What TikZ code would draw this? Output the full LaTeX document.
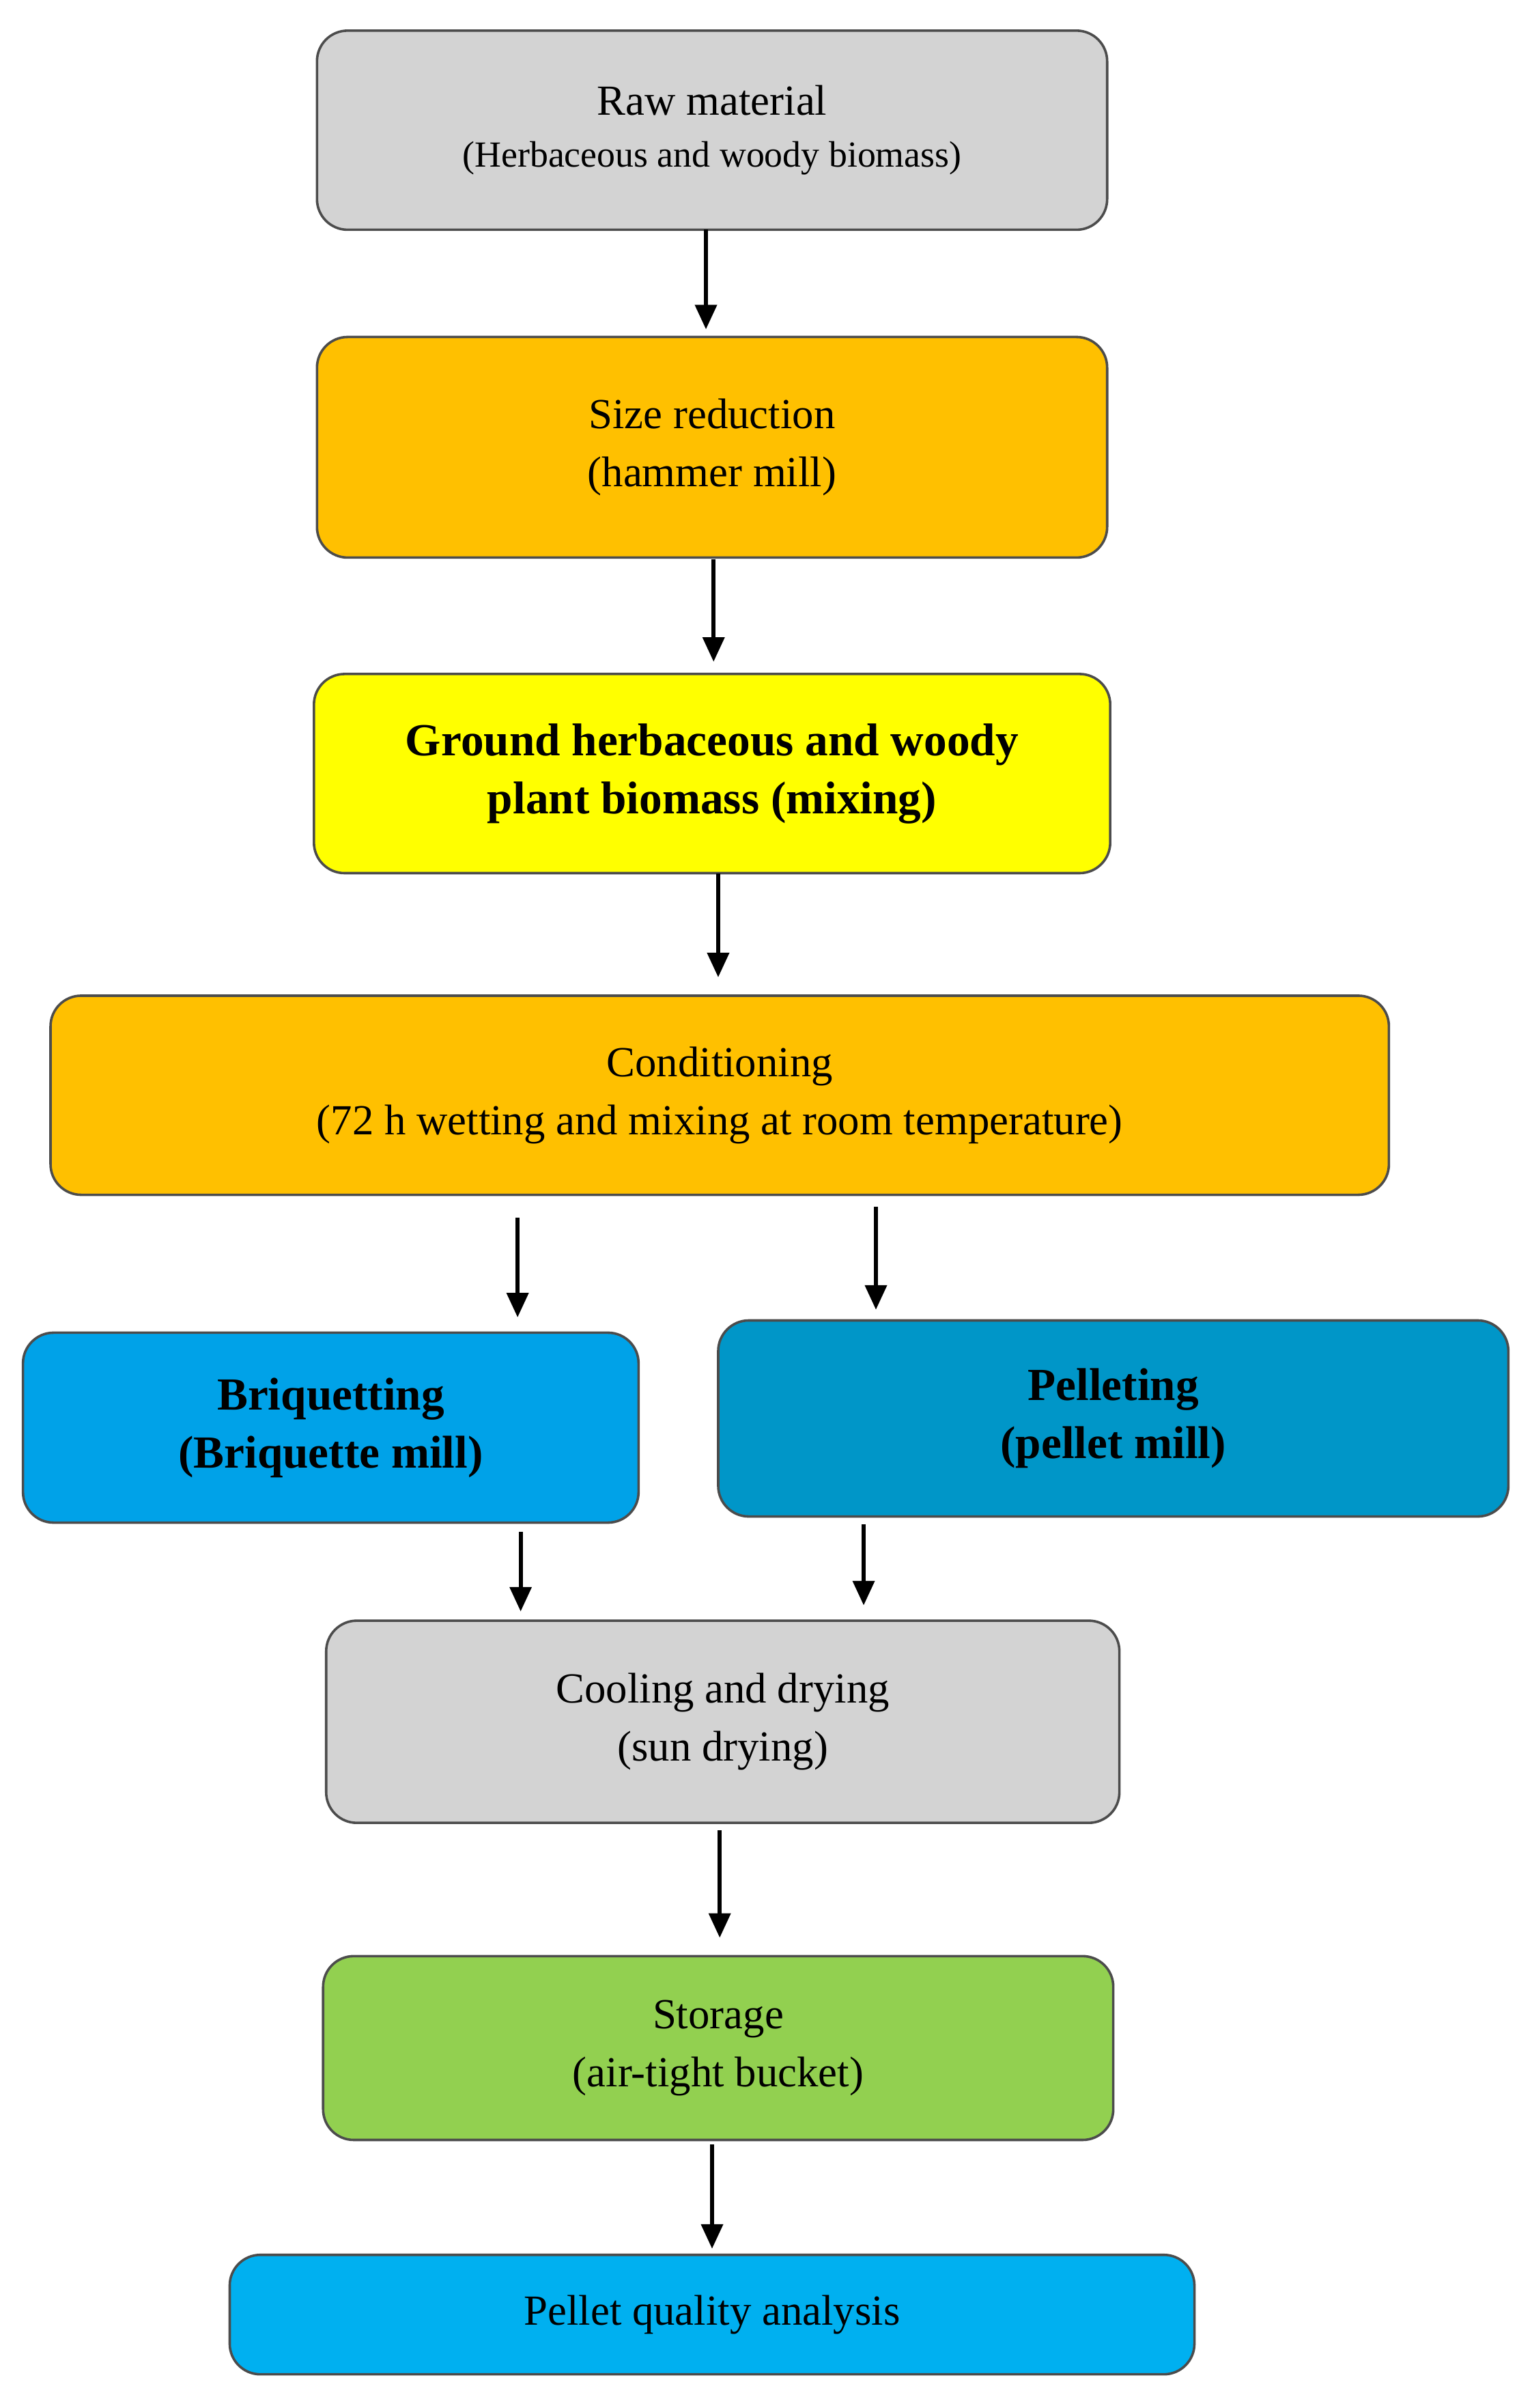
\documentclass[tikz,border=0pt]{standalone}
\usepackage{fontspec}
\setmainfont{Liberation Serif}
\usetikzlibrary{arrows.meta}
\definecolor{greyb}{HTML}{D3D3D3}
\definecolor{orangeb}{HTML}{FFC000}
\definecolor{yellowb}{HTML}{FFFF00}
\definecolor{blueb}{HTML}{00A2E8}
\definecolor{blued}{HTML}{0096C8}
\definecolor{greenb}{HTML}{92D050}
\definecolor{bluel}{HTML}{00B0F0}
\begin{document}
\begin{tikzpicture}[x=0.5pt,y=-0.5pt,
 box/.style={draw=black!70,line width=0.8pt,rounded corners=10pt,align=center,inner sep=0pt,font=\fontsize{14}{19}\selectfont},
 arr/.style={-{Triangle[length=8pt,width=7pt]},line width=1.3pt}]
\useasboundingbox (0,0) rectangle (1000,1572);
\node[box,fill=greyb,minimum width=258pt,minimum height=65pt] (raw) at (465,85) {Raw material\\[-2pt]{\fontsize{12}{16}\selectfont (Herbaceous and woody biomass)}};
\node[box,fill=orangeb,minimum width=258pt,minimum height=72pt] (size) at (465,292) {Size reduction\\(hammer mill)};
\node[box,fill=yellowb,minimum width=260pt,minimum height=65pt,font=\fontsize{15}{19}\selectfont\bfseries] (ground) at (465,505) {Ground herbaceous and woody\\plant biomass (mixing)};
\node[box,fill=orangeb,minimum width=437pt,minimum height=65pt] (cond) at (470,715) {Conditioning\\(72 h wetting and mixing at room temperature)};
\node[box,fill=blueb,minimum width=201pt,minimum height=62pt,font=\fontsize{15}{19}\selectfont\bfseries] (briq) at (216,932) {Briquetting\\(Briquette mill)};
\node[box,fill=blued,minimum width=258pt,minimum height=64pt,font=\fontsize{15}{19}\selectfont\bfseries] (pell) at (727,926) {Pelleting\\(pellet mill)};
\node[box,fill=greyb,minimum width=259pt,minimum height=66pt] (cool) at (472,1124) {Cooling and drying\\(sun drying)};
\node[box,fill=greenb,minimum width=258pt,minimum height=60pt] (stor) at (469,1337) {Storage\\(air-tight bucket)};
\node[box,fill=bluel,minimum width=315pt,minimum height=39pt] (qual) at (465,1511) {Pellet quality analysis};
\coordinate (c1) at (338,795); \coordinate (c2) at (572,788);
\coordinate (b1) at (340,1000); \coordinate (p1) at (564,995);
\draw[arr] (461,150) -- (461,215);
\draw[arr] (466,365) -- (466,432);
\draw[arr] (469,570) -- (469,638);
\draw[arr] (c1) -- (338,860);
\draw[arr] (c2) -- (572,855);
\draw[arr] (b1) -- (340,1052);
\draw[arr] (p1) -- (564,1048);
\draw[arr] (470,1195) -- (470,1265);
\draw[arr] (465,1400) -- (465,1468);
\end{tikzpicture}
\end{document}
